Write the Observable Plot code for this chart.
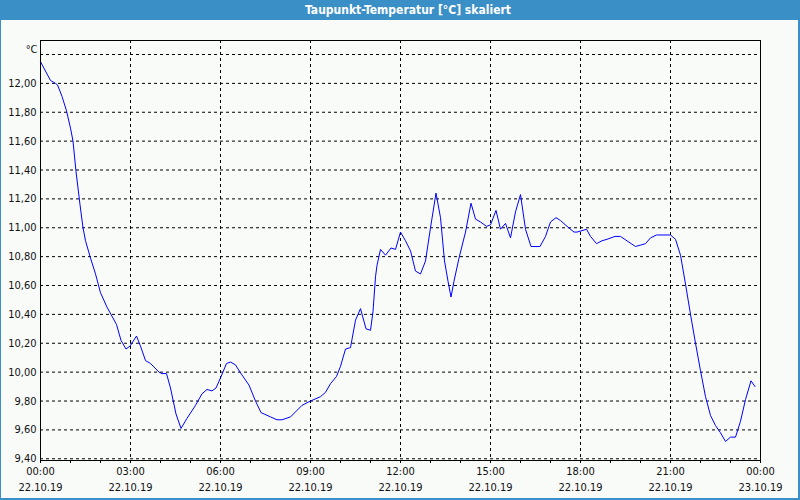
<!DOCTYPE html>
<html>
<head>
<meta charset="utf-8">
<script src="https://cdn.jsdelivr.net/npm/d3@7"></script>
<script src="https://cdn.jsdelivr.net/npm/@observablehq/plot@0.6"></script>
<style>
  html, body { margin: 0; padding: 0; }
  body { width: 800px; height: 500px; overflow: hidden; background: #f9fbf9; position: relative;
         font-family: "Liberation Sans Narrow", "DejaVu Sans Condensed", "Liberation Sans", sans-serif; }
  #frame { position: absolute; left: 0; top: 0; width: 800px; height: 500px; box-sizing: border-box;
           border-left: 1px solid #3b8fc7; border-right: 2px solid #3b8fc7; border-bottom: 2px solid #3b8fc7; }
  #title { position: absolute; left: 0; top: 0; width: 800px; height: 20px; background: #3b8fc7;
           color: #fff; font-weight: bold; font-size: 12px; line-height: 20px; text-align: center;
           text-indent: 16px; }
  #chart { position: absolute; left: 0; top: 20px; }
</style>
</head>
<body>
<div id="frame"></div>
<div id="title">Taupunkt-Temperatur [°C] skaliert</div>
<div id="chart"></div>
<script>
// Minutes after 22.10.19 00:00
const minutes = [0, 20, 30, 34, 43, 52, 60, 65, 71, 79, 85, 90, 100, 110, 120, 133, 152, 161, 171, 179,
  192, 200, 210, 220, 237, 243, 252, 260, 271, 281, 293, 310, 323, 333, 343, 351, 360, 372, 380, 390,
  399, 417, 430, 441, 460, 473, 483, 500, 523, 540, 560, 570, 580, 592, 600, 610, 620, 630, 640, 651,
  660, 665, 670, 673, 680, 690, 701, 710, 720, 730, 740, 750, 760, 770, 780, 791, 800, 808, 815, 821,
  827, 837, 850, 861, 870, 880, 892, 900, 911, 920, 930, 940, 950, 960, 970, 981, 999, 1010, 1020, 1031,
  1040, 1053, 1067, 1073, 1083, 1092, 1100, 1112, 1123, 1133, 1149, 1160, 1177, 1190, 1200, 1210, 1220, 1232, 1260, 1270,
  1280, 1290, 1300, 1310, 1320, 1330, 1340, 1350, 1360, 1370, 1380, 1390, 1400, 1410, 1421, 1429];
// Dew point temperature [°C]
const dewpoint = [12.15, 12.02, 12.00, 11.99, 11.91, 11.81, 11.69, 11.60, 11.39, 11.16, 11.00, 10.91, 10.79, 10.68, 10.55, 10.45, 10.33, 10.22, 10.16, 10.18,
  10.25, 10.18, 10.08, 10.06, 10.00, 9.99, 9.99, 9.89, 9.71, 9.61, 9.68, 9.77, 9.85, 9.88, 9.87, 9.89, 9.96, 10.06, 10.07, 10.05,
  10.00, 9.91, 9.80, 9.72, 9.69, 9.67, 9.67, 9.69, 9.77, 9.80, 9.83, 9.86, 9.92, 9.97, 10.04, 10.16, 10.17, 10.36, 10.44, 10.30,
  10.29, 10.42, 10.66, 10.74, 10.85, 10.81, 10.86, 10.85, 10.97, 10.91, 10.84, 10.70, 10.68, 10.77, 11.00, 11.24, 11.07, 10.77, 10.63, 10.52,
  10.63, 10.79, 10.97, 11.17, 11.06, 11.04, 11.01, 11.02, 11.12, 10.99, 11.03, 10.93, 11.11, 11.23, 10.99, 10.87, 10.87, 10.94, 11.04, 11.07,
  11.05, 11.01, 10.97, 10.97, 10.98, 10.99, 10.94, 10.89, 10.91, 10.92, 10.94, 10.94, 10.90, 10.87, 10.88, 10.89, 10.93, 10.95, 10.95, 10.92,
  10.81, 10.61, 10.40, 10.20, 10.01, 9.83, 9.70, 9.63, 9.58, 9.52, 9.55, 9.55, 9.66, 9.81, 9.94, 9.90];
const yGrid = [9.4, 9.6, 9.8, 10.0, 10.2, 10.4, 10.6, 10.8, 11.0, 11.2, 11.4, 11.6, 11.8, 12.0, 12.2];
const yLabels = [9.4, 9.6, 9.8, 10.0, 10.2, 10.4, 10.6, 10.8, 11.0, 11.2, 11.4, 11.6, 11.8, 12.0];
const xTickHours = [0, 3, 6, 9, 12, 15, 18, 21, 24];
const xMinorHours = d3.range(0, 25);
const yUnit = "°C";

const t0 = Date.UTC(2019, 9, 22);
const toDate = m => new Date(t0 + m * 60000);
const data = minutes.map((m, i) => ({time: toDate(m), value: dewpoint[i]}));
const majorTicks = xTickHours.map(h => toDate(h * 60));
const minorTicks = xMinorHours.map(h => toDate(h * 60));
const fmtTime = d3.utcFormat("%H:%M");
const fmtDate = d3.utcFormat("%d.%m.%y");
const fmtY = d => d.toFixed(2).replace(".", ",");
const font = '"Liberation Sans Narrow", "DejaVu Sans Condensed", "Liberation Sans", sans-serif';

const chart = Plot.plot({
  width: 800,
  height: 480,
  marginTop: 20,
  marginBottom: 40,
  marginLeft: 40,
  marginRight: 40,
  style: {background: "transparent", fontFamily: font, fontSize: "11px", color: "#111"},
  x: {type: "utc", domain: [toDate(0), toDate(1440)]},
  y: {domain: [9.388, 12.297]},
  marks: [
    Plot.gridY(yGrid, {stroke: "#000", strokeOpacity: 1, strokeDasharray: "3,3"}),
    Plot.gridX(majorTicks, {stroke: "#000", strokeOpacity: 1, strokeDasharray: "3,3"}),
    Plot.line(data, {x: "time", y: "value", stroke: "#0000ff", strokeWidth: 1}),
    Plot.frame({stroke: "#000", strokeWidth: 1}),
    Plot.axisY(yLabels, {tickSize: 0, tickPadding: 4, tickFormat: fmtY, label: null, fontSize: 11}),
    Plot.axisX(minorTicks, {tickSize: 3, tickFormat: () => "", label: null, stroke: "#000", strokeOpacity: 1}),
    Plot.axisX(majorTicks, {tickSize: 0, tickPadding: 7, tickFormat: fmtTime, label: null, fontSize: 11}),
    Plot.axisX(majorTicks, {tickSize: 0, tickPadding: 23, tickFormat: fmtDate, label: null, fontSize: 11}),
    Plot.text([yUnit], {frameAnchor: "top-left", text: d => d, textAnchor: "end", dx: -3, dy: 5, fontSize: 11, fill: "#111"})
  ]
});
document.getElementById("chart").appendChild(chart);
</script>
</body>
</html>
